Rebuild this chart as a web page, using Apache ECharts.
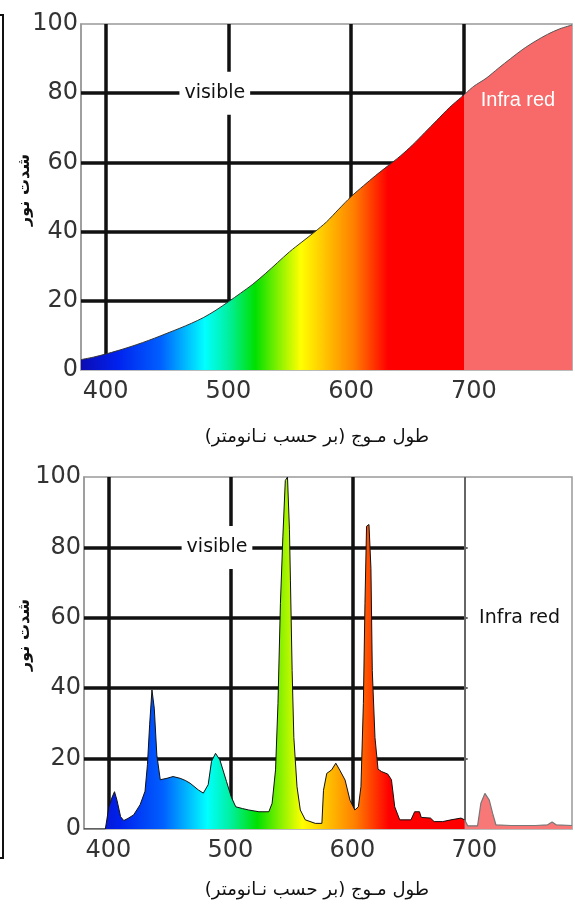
<!DOCTYPE html>
<html><head><meta charset="utf-8">
<script src="https://cdn.jsdelivr.net/npm/echarts@6/dist/echarts.min.js"></script>
<style>html,body{margin:0;padding:0;background:#fff;}#c{width:575px;height:908px;}</style>
</head><body><div id="c"></div>
<script>
// ---- axes / labels ----
const xTickLabels = [400, 500, 600, 700];
const gridX = [400, 500, 600];
const gridY = [20, 40, 60, 80];
const irStart = 692;
const xMin = 380, xMax = 780;
const yTitle = 'شدت نور';
const xTitle = 'طول مـوج (بر حسب نـانومتر)';

// ---- top chart: continuous (incandescent-like) spectrum ----
const topWavelengths = [380,390,400,410,420,430,440,450,460,470,480,490,500,510,520,530,540,550,560,570,580,590,600,610,620,630,640,650,660,670,680,692,700,710,720,730,740,750,760,770,780];
const topValues      = [3.0,3.7,4.6,5.6,6.7,7.9,9.2,10.6,12.0,13.5,15.2,17.3,19.7,22.2,24.8,27.8,31.0,34.2,37.0,39.8,42.8,46.5,50.1,53.2,56.2,59.0,61.8,65.0,68.6,72.2,75.8,79.5,82.0,84.3,87.2,90.0,92.7,95.0,97.0,98.6,99.7];

// ---- bottom chart: fluorescent line spectrum ----
const bottomWavelengths = [380,390,397.5,400.4,403,405,407,410,412.6,416,420.7,426,430,432,433.8,435.7,437.6,439.7,442.5,448,453,458.8,463,467,473.7,477.8,481.8,484.5,487.8,491.4,496.8,500.8,504.4,510,515,523.4,531.5,534.2,537,539,541,543,545,546.8,548.4,549.2,550.6,552,554.6,557.3,561.4,569.6,575,576.3,579,583,586.4,590,594,598,602,604.9,607,609,610.3,611.6,613.6,615.2,616.3,618.5,621,624,629,632,634.7,638.8,648,651,655,656.4,664,667,674,680.8,689,692,694.5,702.6,705.3,708.6,712.2,714.9,717.6,730,750,760,763.7,767,780];
const bottomValues      = [0,0,0,6.3,9,10.6,8.2,3.5,2.4,3,4,6.9,10.7,18.3,29.6,39.5,34.3,21,14,14.4,14.9,14.4,13.8,13,11.1,10.2,12.6,19.2,21.5,19.6,13.5,9,6.3,5.8,5.4,4.9,4.9,7.3,16.8,35.7,64,83,99,100,85,70.7,45,26,12,5.4,2.6,1.6,1.6,11,15.8,16.8,18.7,16.5,13.9,8.2,5.4,6.3,12,35.7,64,86,86.5,74,45,26,17,16.3,15.6,14,6.3,2.6,2.6,4.9,4.9,3.3,3.1,2.1,2.1,2.6,3.1,2.6,0.9,0.9,7.3,10.1,8.2,4.5,1.2,1.0,1.0,1.2,2,1.2,1.0];

// ---- spectrum colour ramp ----
const spectrumNm     = [380, 410, 445, 481, 500, 522, 540, 559, 580, 602, 630, 692];
const spectrumColors = ['#0c0cb4','#0022ee','#0060ff','#00ffff','#00f0a0','#00e000','#80f000','#ffff00','#ffc000','#ff8000','#ff0000','#ff0000'];
const irColorTop = '#f86a6a';
const irColorBottom = '#f87878';

// label anchors (data space)
const visibleLabelTop = [489, 80];
const visibleLabelBottom = [489, 80];
const irLabelTop = [736, 78];
const irLabelBottom = [737, 60];

function pairs(xs, ys, keep) {
  const out = [];
  for (let i = 0; i < xs.length; i++) if (keep(xs[i])) out.push([xs[i], ys[i]]);
  return out;
}
function gradient() {
  const a = spectrumNm[0], b = spectrumNm[spectrumNm.length - 1];
  return new echarts.graphic.LinearGradient(0, 0, 1, 0,
    spectrumNm.map((nm, i) => ({ offset: (nm - a) / (b - a), color: spectrumColors[i] })));
}
function gridLines(boundaryStyle, withTicks) {
  const d = [];
  gridY.forEach(v => d.push([{ coord: [xMin, v] }, { coord: [irStart, v] }]));
  gridX.forEach(v => d.push([{ coord: [v, 0] }, { coord: [v, 100] }]));
  d.push([{ coord: [irStart, 0], lineStyle: boundaryStyle }, { coord: [irStart, 100] }]);
  if (withTicks) gridY.forEach(v => d.push([{ coord: [irStart, v], lineStyle: boundaryStyle }, { coord: [irStart + 2.5, v] }]));
  return d;
}
const FONT = 'DejaVu Sans';

const chart = echarts.init(document.getElementById('c'), null, { renderer: 'canvas' });

function axesFor(gi) {
  return {
    x: {
      type: 'value', gridIndex: gi, min: xMin, max: xMax,
      axisLine: { show: true, lineStyle: { color: '#bbb', width: 1 } },
      axisTick: { show: false }, splitLine: { show: false },
      axisLabel: { color: '#333', fontSize: 24, fontFamily: FONT, margin: 10,
        formatter: v => xTickLabels.includes(v) ? String(v) : '' }
    },
    y: {
      type: 'value', gridIndex: gi, min: 0, max: 100, interval: 20,
      axisLine: { show: true, lineStyle: { color: '#999', width: 1.5 } },
      axisTick: { show: false },
      splitLine: { show: false },
      axisLabel: { color: '#333', fontSize: 24, fontFamily: FONT, margin: 3 }
    }
  };
}
const a0 = axesFor(0), a1 = axesFor(1);
const labelItem = { opacity: 1 };

const option = {
  animation: false,
  backgroundColor: '#fff',
  grid: [
    { left: 81, top: 24, width: 495, height: 346, show: true, borderColor: '#999', borderWidth: 1.5, backgroundColor: '#fff' },
    { left: 84, top: 477, width: 492, height: 352, show: true, borderColor: '#999', borderWidth: 1.5, backgroundColor: '#fff' }
  ],
  xAxis: [a0.x, a1.x],
  yAxis: [a0.y, a1.y],
  series: [
    // top gridlines
    { type: 'line', xAxisIndex: 0, yAxisIndex: 0, data: [[xMin, 0]], symbol: 'none', lineStyle: { width: 0 }, z: 1, silent: true,
      markLine: { silent: true, symbol: 'none', z: 1, label: { show: false }, animation: false,
        lineStyle: { color: '#111', width: 3.5, type: 'solid' },
        data: gridLines({ color: '#111', width: 3.5 }, false) } },
    // top visible spectrum
    { type: 'line', xAxisIndex: 0, yAxisIndex: 0, z: 3, symbol: 'none', silent: true, smooth: 0.3,
      data: pairs(topWavelengths, topValues, x => x <= irStart),
      lineStyle: { color: '#333', width: 1 },
      areaStyle: { color: gradient(), opacity: 1 } },
    // top infrared
    { type: 'line', xAxisIndex: 0, yAxisIndex: 0, z: 3, symbol: 'none', silent: true, smooth: 0.3,
      data: pairs(topWavelengths, topValues, x => x >= irStart),
      lineStyle: { color: '#555', width: 1 },
      areaStyle: { color: irColorTop, opacity: 1 } },
    // top labels
    { type: 'scatter', xAxisIndex: 0, yAxisIndex: 0, z: 5, symbolSize: 0, silent: true, itemStyle: labelItem,
      data: [visibleLabelTop],
      label: { show: true, position: 'inside', formatter: 'visible', color: '#111', fontSize: 19, fontFamily: FONT,
        backgroundColor: '#fff', padding: [12, 5, 12, 5] } },
    { type: 'scatter', xAxisIndex: 0, yAxisIndex: 0, z: 5, symbolSize: 0, silent: true, itemStyle: labelItem,
      data: [irLabelTop],
      label: { show: true, position: 'inside', formatter: 'Infra red', color: '#fff', fontSize: 20, fontFamily: 'Liberation Sans' } },

    // bottom gridlines
    { type: 'line', xAxisIndex: 1, yAxisIndex: 1, data: [[xMin, 0]], symbol: 'none', lineStyle: { width: 0 }, z: 1, silent: true,
      markLine: { silent: true, symbol: 'none', z: 1, label: { show: false }, animation: false,
        lineStyle: { color: '#111', width: 3.5, type: 'solid' },
        data: gridLines({ color: '#666', width: 2 }, true) } },
    // bottom visible spectrum
    { type: 'line', xAxisIndex: 1, yAxisIndex: 1, z: 3, symbol: 'none', silent: true,
      data: pairs(bottomWavelengths, bottomValues, x => x <= irStart),
      lineStyle: { color: '#111', width: 1 },
      areaStyle: { color: gradient(), opacity: 1 } },
    // bottom infrared
    { type: 'line', xAxisIndex: 1, yAxisIndex: 1, z: 3, symbol: 'none', silent: true,
      data: pairs(bottomWavelengths, bottomValues, x => x >= irStart),
      lineStyle: { color: '#777', width: 1.2 },
      areaStyle: { color: irColorBottom, opacity: 1 } },
    // bottom labels
    { type: 'scatter', xAxisIndex: 1, yAxisIndex: 1, z: 5, symbolSize: 0, silent: true, itemStyle: labelItem,
      data: [visibleLabelBottom],
      label: { show: true, position: 'inside', formatter: 'visible', color: '#111', fontSize: 19, fontFamily: FONT,
        backgroundColor: '#fff', padding: [12, 5, 12, 5] } },
    { type: 'scatter', xAxisIndex: 1, yAxisIndex: 1, z: 5, symbolSize: 0, silent: true, itemStyle: labelItem,
      data: [irLabelBottom],
      label: { show: true, position: 'inside', formatter: 'Infra red', color: '#111', fontSize: 19, fontFamily: FONT } }
  ],
  graphic: [
    { type: 'polyline', shape: { points: [[0, 15], [3, 15], [3, 858], [0, 858]] }, style: { stroke: '#111', lineWidth: 2, fill: null } },
    { type: 'text', x: 317, y: 437, style: { text: xTitle, font: '18px "DejaVu Sans"', fill: '#111', align: 'center', verticalAlign: 'middle' } },
    { type: 'text', x: 317, y: 890, style: { text: xTitle, font: '18px "DejaVu Sans"', fill: '#111', align: 'center', verticalAlign: 'middle' } },
    { type: 'text', x: 25, y: 190, rotation: Math.PI / 2, style: { text: yTitle, font: 'bold 16px "DejaVu Sans"', fill: '#111', align: 'center', verticalAlign: 'middle' } },
    { type: 'text', x: 25, y: 635, rotation: Math.PI / 2, style: { text: yTitle, font: 'bold 16px "DejaVu Sans"', fill: '#111', align: 'center', verticalAlign: 'middle' } }
  ]
};
chart.setOption(option);
</script></body></html>
